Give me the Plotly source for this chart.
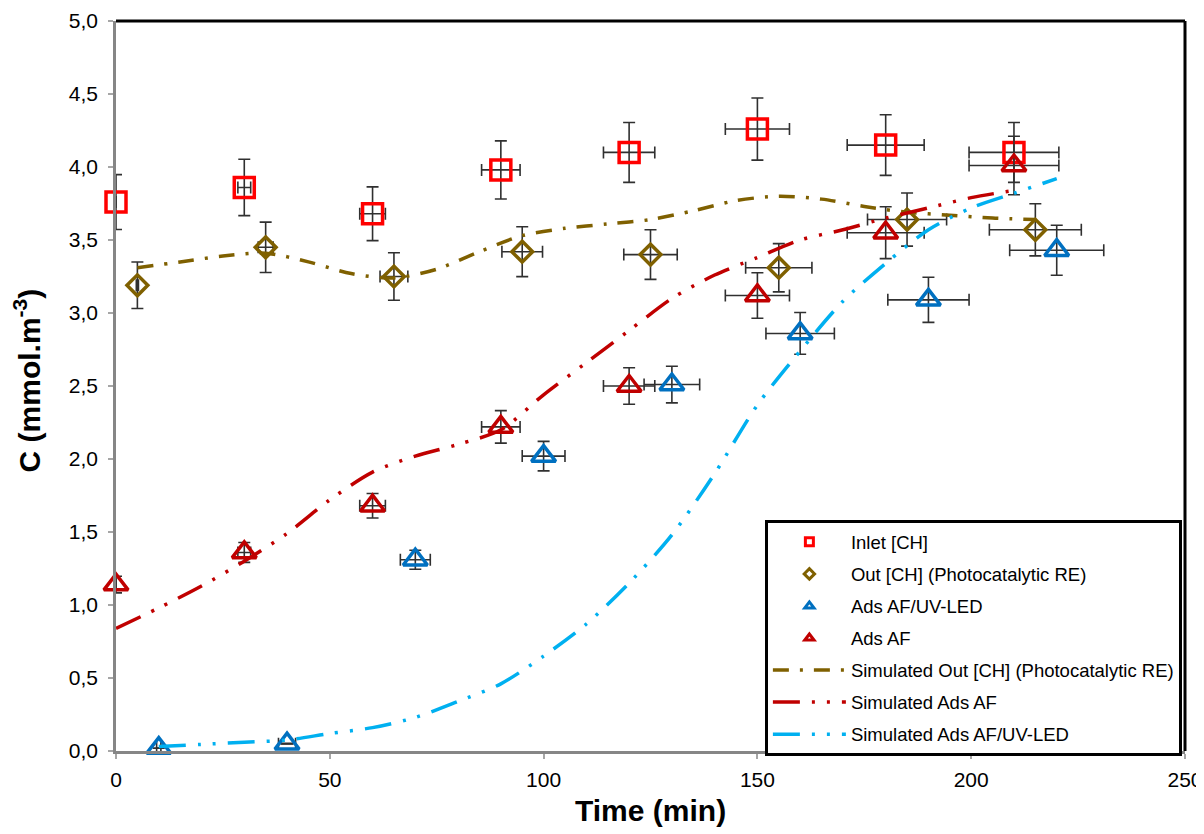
import plotly.graph_objects as go

# ---------------- data ----------------
time_inlet = [0, 30, 60, 90, 120, 150, 180, 210]
c_inlet = [3.76, 3.86, 3.68, 3.98, 4.10, 4.26, 4.15, 4.10]

time_out = [5, 35, 65, 95, 125, 155, 185, 215]
c_out = [3.19, 3.45, 3.25, 3.42, 3.40, 3.31, 3.64, 3.57]

time_uv = [10, 40, 70, 100, 130, 160, 190, 220]
c_uv = [0.02, 0.05, 1.31, 2.02, 2.51, 2.86, 3.09, 3.43]

time_af = [0, 30, 60, 90, 120, 150, 180, 210]
c_af = [1.14, 1.36, 1.68, 2.22, 2.50, 3.12, 3.55, 4.01]

err_pct = 5  # error bars: 5 % of value (x and y)

sim_out_t = [5, 15, 25, 35, 45, 55, 65, 75, 85, 95, 105, 115, 125, 135, 145,
             155, 165, 175, 185, 195, 205, 215]
sim_out_c = [3.31, 3.35, 3.39, 3.41, 3.35, 3.27, 3.24, 3.30, 3.42, 3.53, 3.58,
             3.61, 3.64, 3.70, 3.77, 3.80, 3.78, 3.73, 3.69, 3.67, 3.65, 3.64]

sim_af_t = [0, 10, 20, 30, 40, 50, 60, 70, 80, 90, 100, 110, 120, 130, 140,
            150, 160, 170, 180, 190, 200, 210]
sim_af_c = [0.84, 0.98, 1.13, 1.30, 1.49, 1.72, 1.91, 2.02, 2.10, 2.20, 2.44,
            2.66, 2.88, 3.10, 3.26, 3.38, 3.50, 3.57, 3.65, 3.72, 3.79, 3.84]

sim_uv_t = [10, 20, 30, 40, 50, 60, 70, 80, 90, 100, 110, 120, 130, 140, 150,
            160, 170, 180, 190, 200, 210, 220]
sim_uv_c = [0.03, 0.045, 0.06, 0.075, 0.12, 0.16, 0.23, 0.34, 0.46, 0.65, 0.87,
            1.15, 1.48, 1.90, 2.37, 2.74, 3.08, 3.34, 3.57, 3.72, 3.82, 3.92]

x_ticks = [0, 50, 100, 150, 200, 250]
y_ticks = [0, 0.5, 1, 1.5, 2, 2.5, 3, 3.5, 4, 4.5, 5]

# ---------------- styles ----------------
RED = "#FF0000"
OLIVE = "#7F6000"
BLUE = "#0070C0"
DRED = "#C00000"
LBLUE = "#00B0F0"
ERRC = "#303030"
FONT = "Liberation Sans, Arial, sans-serif"

fig = go.Figure()

def err(pct):
    return dict(type="percent", value=pct, color=ERRC, thickness=1.6, width=6)

def marker_trace(x, y, name, symbol, color, size, rank):
    fig.add_trace(go.Scatter(
        x=x, y=y, mode="markers", name=name, showlegend=False,
        marker=dict(symbol=symbol, size=size, color=color,
                    line=dict(color=color, width=3.5)),
        error_x=err(err_pct), error_y=err(err_pct), cliponaxis=False))
    # legend entry with a small marker
    fig.add_trace(go.Scatter(
        x=[None], y=[None], mode="markers", name=name, legendrank=rank,
        legendgroup=name,
        marker=dict(symbol=symbol, size=8, color=color,
                    line=dict(color=color, width=3))))

marker_trace(time_inlet, c_inlet, "Inlet [CH]", "square-open", RED, 20, 1)
marker_trace(time_out, c_out, "Out [CH] (Photocatalytic RE)", "diamond-open", OLIVE, 16, 2)
marker_trace(time_uv, c_uv, "Ads AF/UV-LED", "triangle-up-open", BLUE, 21, 3)
marker_trace(time_af, c_af, "Ads AF", "triangle-up-open", DRED, 21, 4)

def line_trace(x, y, name, color, dash, rank):
    fig.add_trace(go.Scatter(
        x=x, y=y, mode="lines", name=name, legendrank=rank, legendgroup=name,
        line=dict(color=color, width=3.5, dash=dash, shape="spline", smoothing=0.8),
        cliponaxis=False))

line_trace(sim_out_t, sim_out_c, "Simulated Out [CH] (Photocatalytic RE)", OLIVE,
           "16px,11px,3px,11px", 5)
line_trace(sim_af_t, sim_af_c, "Simulated Ads AF", DRED,
           "27px,12px,3px,12px,3px,12px", 6)
line_trace(sim_uv_t, sim_uv_c, "Simulated Ads AF/UV-LED", LBLUE,
           "27px,12px,3px,12px,3px,12px", 7)

axis_common = dict(
    showline=True, linecolor="#868686", linewidth=2.5, mirror=False,
    ticks="outside", ticklen=5, tickcolor="#A6A6A6", tickwidth=1.5,
    showgrid=False, zeroline=False, automargin=False,
    tickfont=dict(family=FONT, size=21, color="#000000"),
)

# the page body adds an ~8px offset; figure is sized so the plot lands where the reference has it
fig.update_layout(
    width=1196, height=826,
    paper_bgcolor="white", plot_bgcolor="white",
    margin=dict(l=108, r=19, t=13, b=83, autoexpand=False),
    separators=",.",
    font=dict(family=FONT, color="#000000"),
    xaxis=dict(range=[0, 250], tickvals=x_ticks, tickformat="d",
               ticklabelstandoff=3, **axis_common),
    yaxis=dict(range=[0, 5], tickvals=y_ticks, tickformat=".1f",
               ticklabelstandoff=6, **axis_common),
    legend=dict(
        x=0.607, y=0.316, xanchor="left", yanchor="top",
        bgcolor="white", bordercolor="#000000", borderwidth=3,
        font=dict(family=FONT, size=18.5, color="#000000"),
        itemwidth=73, tracegroupgap=5, traceorder="grouped",
    ),
    shapes=[
        dict(type="line", xref="paper", yref="paper", x0=0, x1=1, y0=1, y1=1,
             line=dict(color="#000000", width=3)),
        dict(type="line", xref="paper", yref="paper", x0=1, x1=1, y0=0, y1=1,
             line=dict(color="#000000", width=3)),
    ],
    annotations=[
        dict(text="<b>Time (min)</b>", xref="paper", yref="paper",
             x=0.5, y=-0.082, xanchor="center", yanchor="middle", showarrow=False,
             font=dict(family=FONT, size=30, color="#000000")),
        dict(text="<b>C (mmol.m<sup>-3</sup>)</b>", xref="paper", yref="paper",
             x=-0.083, y=0.508, xanchor="center", yanchor="middle", showarrow=False,
             textangle=-90, font=dict(family=FONT, size=30, color="#000000")),
    ],
)

fig.write_html("out.html")
